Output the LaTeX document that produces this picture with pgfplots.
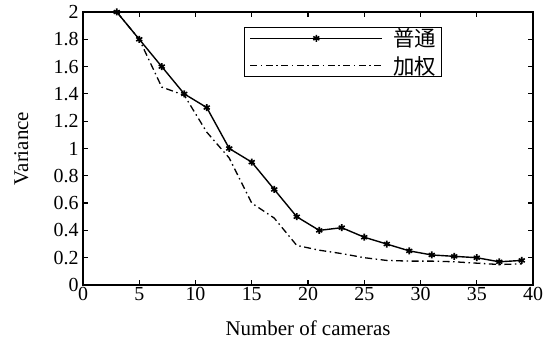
\documentclass[border=0pt]{standalone}
\usepackage{fontspec}
\setmainfont{Liberation Serif}
\newfontfamily\cjk{Noto Sans CJK SC}
\newfontfamily\tnr{Liberation Serif}
\usepackage{pgfplots}
\pgfplotsset{compat=1.18}
\newcommand{\lgtext}[1]{{\cjk\fontsize{21.5}{21.5}\selectfont #1}}
\begin{document}
\begin{tikzpicture}
\begin{axis}[
  name=ax,
  at={(0,0)}, anchor=south west,
  scale only axis,
  width=450bp, height=273bp,
  xmin=0, xmax=40, ymin=0, ymax=2,
  xtick={0,5,...,40},
  xticklabels={0,5,10,15,20,25,30,35,40},
  ytick={0,0.2,...,2.01},
  yticklabels={0,0.2,0.4,0.6,0.8,1,1.2,1.4,1.6,1.8,2},
  tick align=inside,
  major tick length=5bp,
  axis line style={line width=1.5bp},
  every tick/.style={line width=1.2bp, black},
  /pgf/number format/assume math mode=true,
  tick label style={font=\tnr\fontsize{20}{20}\selectfont},
  yticklabel style={xshift=-1bp},
  xticklabel style={yshift=1bp},
  label style={font=\tnr\fontsize{21}{21}\selectfont},
  xlabel={Number of cameras},
  ylabel={Variance},
  xlabel style={at={(axis description cs:0.5,-0.1868)}, anchor=base},
  ylabel style={at={(axis description cs:-0.1222,0.5)}, anchor=base, rotate=0},
  legend style={at={(axis description cs:0.358,0.945)}, anchor=north west,
    draw=black, line width=1bp, inner xsep=5bp, inner ysep=0bp,
    row sep=6bp, column sep=9bp,
    nodes={inner sep=1bp}},
  legend cell align=left,
  legend image code/.code={
    \draw[mark repeat=2, mark phase=2, #1] plot coordinates {(0bp,0bp) (66bp,0bp) (132bp,0bp)};
  },
]
\addplot[black, line width=1.4bp, mark=asterisk, mark size=3.5bp, mark options={line width=1.6bp, solid}]
coordinates {(3,2)(5,1.8)(7,1.6)(9,1.4)(11,1.3)(13,1.0)(15,0.9)(17,0.7)(19,0.5)(21,0.4)(23,0.42)(25,0.35)(27,0.3)(29,0.25)(31,0.22)(33,0.21)(35,0.2)(37,0.17)(39,0.18)};
\addlegendentry{\lgtext{普通}}
\addplot[black, line width=1.3bp, dash pattern=on 7bp off 3.5bp on 1.5bp off 3.5bp]
coordinates {(3,2)(5,1.8)(7,1.45)(9,1.39)(11,1.12)(13,0.93)(15,0.6)(17,0.49)(19,0.29)(21,0.255)(23,0.23)(25,0.2)(27,0.18)(29,0.175)(31,0.175)(33,0.17)(35,0.16)(37,0.15)(39,0.155)};
\addlegendentry{\lgtext{加权}}
\end{axis}
\pgfresetboundingbox
\path[use as bounding box] (-83bp,-60bp) rectangle (476bp,12bp+273bp);
\end{tikzpicture}
\end{document}
